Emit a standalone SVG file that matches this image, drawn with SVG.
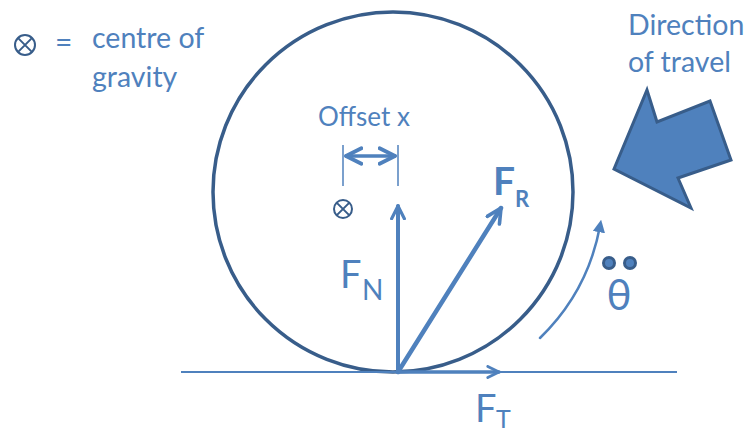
<svg xmlns="http://www.w3.org/2000/svg" width="745" height="434" viewBox="0 0 745 434">
  <defs>
    <style>
      .t { font-family: Lato, "Liberation Sans", sans-serif; fill: #4F81BD; }
      .v { stroke: #4F81BD; fill: none; stroke-linecap: round; stroke-linejoin: round; }
      .cog { fill: none; stroke: #385D8A; stroke-width: 2; }
    </style>
    <marker id="open" viewBox="0 0 10 10" refX="9" refY="5" markerWidth="4" markerHeight="4" orient="auto" markerUnits="strokeWidth">
      <path d="M1,1 L9,5 L1,9" fill="none" stroke="#4F81BD" stroke-width="2" stroke-linecap="round" stroke-linejoin="round"/>
    </marker>
    <marker id="openS" viewBox="0 0 10 10" refX="9" refY="5" markerWidth="5.5" markerHeight="5.5" orient="auto-start-reverse" markerUnits="strokeWidth">
      <path d="M1,1 L9,5 L1,9" fill="none" stroke="#4F81BD" stroke-width="2" stroke-linecap="round" stroke-linejoin="round"/>
    </marker>
    <marker id="tri" viewBox="0 0 10 10" refX="5" refY="5" markerWidth="5" markerHeight="5" orient="auto" markerUnits="strokeWidth">
      <path d="M0,0 L10,5 L0,10 Z" fill="#4F81BD"/>
    </marker>
  </defs>

  <g id="legend">
    <circle class="cog" cx="25" cy="45" r="10"/>
    <path class="cog" d="M17.9,37.9 L32.1,52.1 M32.1,37.9 L17.9,52.1"/>
    <text class="t" x="55" y="53" font-size="30">=</text>
    <text class="t" x="92" y="48" font-size="28.5">centre of</text>
    <text class="t" x="92" y="87" font-size="28.5">gravity</text>
  </g>

  <g id="wheel">
    <circle cx="393" cy="192" r="180" fill="none" stroke="#385D8A" stroke-width="3.5"/>
  </g>

  <g id="ground">
    <line x1="181" y1="372" x2="677" y2="372" stroke="#4F81BD" stroke-width="2"/>
  </g>

  <g id="offset">
    <text class="t" x="318" y="126" font-size="26">Offset x</text>
    <line x1="343" y1="145" x2="343" y2="186" stroke="#4F81BD" stroke-width="1.5"/>
    <line x1="398" y1="145" x2="398" y2="186" stroke="#4F81BD" stroke-width="1.5"/>
    <line class="v" x1="346" y1="156" x2="395" y2="156" stroke-width="3.5" marker-start="url(#openS)" marker-end="url(#openS)"/>
  </g>

  <g id="cog">
    <circle class="cog" cx="343" cy="209" r="9"/>
    <path class="cog" d="M336.6,202.6 L349.4,215.4 M349.4,202.6 L336.6,215.4"/>
  </g>

  <g id="connectors">
    <line id="fn" class="v" x1="398" y1="372" x2="398" y2="206" stroke-width="4" marker-end="url(#open)"/>
    <line id="fr" class="v" x1="398" y1="372" x2="501" y2="208" stroke-width="4.5" marker-end="url(#open)"/>
    <line id="ft" class="v" x1="398" y1="372" x2="499" y2="372" stroke-width="3.5" marker-end="url(#open)"/>
    <path id="rot" class="v" d="M540,338 A209,209 0 0 0 600,226" stroke-width="2.5" marker-end="url(#tri)"/>
  </g>

  <g id="label-fn">
    <text class="t" x="340" y="288" font-size="38">F</text>
    <text class="t" x="362" y="300" font-size="28">N</text>
  </g>
  <g id="label-fr">
    <text class="t" x="493" y="195" font-size="39" font-weight="bold">F</text>
    <text class="t" x="515" y="207" font-size="22" font-weight="bold">R</text>
  </g>
  <g id="label-ft">
    <text class="t" x="475" y="422" font-size="38">F</text>
    <text class="t" x="496" y="428" font-size="25">T</text>
  </g>

  <g id="theta">
    <circle cx="609" cy="263" r="5.5" fill="#4F81BD" stroke="#385D8A" stroke-width="3"/>
    <circle cx="630" cy="263" r="5.5" fill="#4F81BD" stroke="#385D8A" stroke-width="3"/>
    <text class="t" x="619" y="310" font-size="42" text-anchor="middle">θ</text>
  </g>

  <g id="direction">
    <text class="t" x="628" y="35" font-size="28.5">Direction</text>
    <text class="t" x="628" y="72" font-size="28.5">of travel</text>
    <polygon points="647,90 657,122 710,101 731,160 678,178 691,208 614,169" fill="#4F81BD" stroke="#385D8A" stroke-width="3" stroke-linejoin="miter"/>
  </g>
</svg>
